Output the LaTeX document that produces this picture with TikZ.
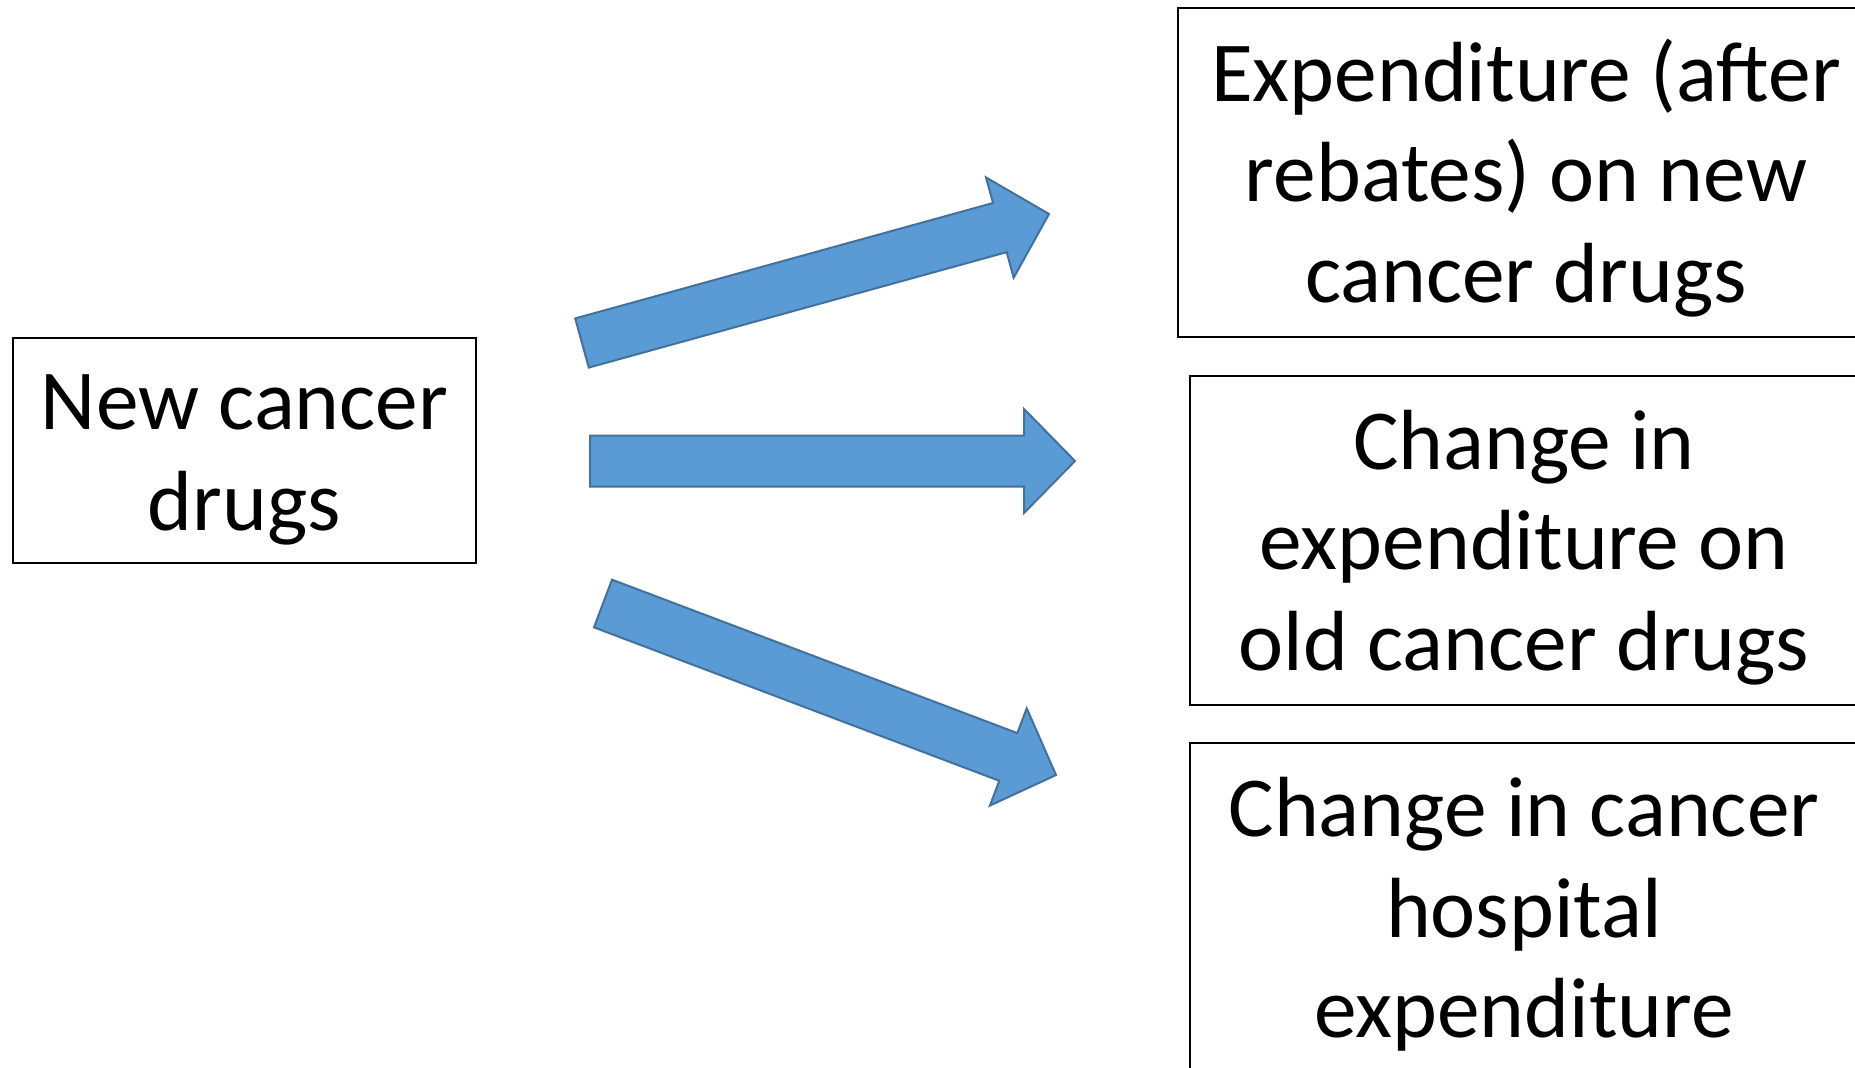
\documentclass[tikz,border=0pt]{standalone}
\usepackage{fontspec}
\setmainfont{Carlito}
\usepackage{tikz}
\usetikzlibrary{calc}
\definecolor{arrowfill}{HTML}{5B9BD5}
\definecolor{arrowline}{HTML}{41719C}
\newcommand{\boxfont}{\fontsize{24.3}{28.6}\selectfont}
\newcommand{\toplift}{\rule{0pt}{0.86em}}
\newcommand{\blockarrow}[2]{%
	\coordinate (neck) at ($(#2)!5.1mm!(#1)$);
	\draw[fatarrow] ($(#1)!2.55mm!90:(#2)$) -- ($(neck)!2.55mm!90:(#2)$) -- ($(neck)!5.2mm!90:(#2)$) -- (#2) -- ($(neck)!5.2mm!-90:(#2)$) -- ($(neck)!2.55mm!-90:(#2)$) -- ($(#1)!2.55mm!-90:(#2)$) -- cycle;
}
\tikzset{
	box/.style={draw, line width=0.2mm, align=center, inner sep=0pt, font=\boxfont},
	fatarrow/.style={draw=arrowline, fill=arrowfill, line width=0.2mm, line join=miter}
}

\begin{document}
\begin{tikzpicture}[x=0.1mm,y=-0.1mm]
	\clip (0,0) rectangle (1855,1067);
	\node[box, minimum width=46.3mm, minimum height=22.5mm] (newdrugs) at (244.5,450.5) {\toplift New cancer\\drugs};
	\node[box, minimum width=69.6mm, minimum height=32.9mm] (newspend) at (1526,172.5) {\toplift Expenditure (after\\rebates) on new\\cancer drugs};
	\node[box, minimum width=66.8mm, minimum height=32.9mm] (oldspend) at (1524,540.5) {\toplift Change in\\expenditure on\\old cancer drugs};
	\node[box, minimum width=66.8mm, minimum height=32.9mm] (hospspend) at (1524,907.5) {\toplift Change in cancer\\hospital\\expenditure};
	% tails and tips of the block arrows
	\coordinate (topfrom) at (582,343);
	\coordinate (topto) at (1049,214);
	\coordinate (midfrom) at (590,461);
	\coordinate (midto) at (1075,461);
	\coordinate (lowfrom) at (603,603.5);
	\coordinate (lowto) at (1056,775);
	\blockarrow{topfrom}{topto}
	\blockarrow{midfrom}{midto}
	\blockarrow{lowfrom}{lowto}
\end{tikzpicture}
\end{document}
